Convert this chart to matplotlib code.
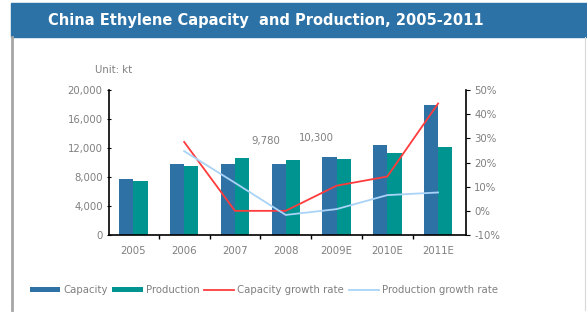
import numpy as np
import matplotlib.pyplot as plt
from matplotlib.patches import Rectangle
from matplotlib.lines import Line2D

# dữ liệu
years = ['2005', '2006', '2007', '2008', '2009E', '2010E', '2011E']
capacity = [7680, 9830, 9830, 9780, 10710, 12370, 17930]
production = [7490, 9480, 10580, 10390, 10440, 11270, 12180]
cap_growth = [np.nan, 28.5, 0.0, 0.0, 10.4, 14.2, 44.4]
prod_growth = [np.nan, 24.7, 11.6, -1.7, 0.7, 6.5, 7.6]
value_labels = {2: '9,780', 3: '10,300'}

W, H = 587, 313
fig = plt.figure(figsize=(W / 100, H / 100), dpi=100)

c_band = '#2C72A6'
c_cap = '#2D71A5'
c_prod = '#009490'
c_red = '#FF3B3B'
c_lblue = '#A9D3F7'
c_text = '#7F7F7F'
fs = 7.3

# khung + thanh tiêu đề
fig.patches.append(Rectangle((11 / W, (H - 37) / H), (W - 11) / W, 34 / H,
                             transform=fig.transFigure, color=c_band, zorder=0))
fig.lines.append(Line2D([12 / W, 12 / W], [3 / H, (H - 37) / H],
                        transform=fig.transFigure, color='#A6A6A6', lw=2))
fig.lines.append(Line2D([585 / W, 585 / W], [3 / H, (H - 37) / H],
                        transform=fig.transFigure, color='#D9D9D9', lw=0.8))
fig.text(266 / W, (H - 20) / H, 'China Ethylene Capacity  and Production, 2005-2011',
         color='white', fontsize=10.5, fontweight='bold', ha='center', va='center')

ax = fig.add_axes([109 / W, 78 / H, 357 / W, 145 / H])
x = np.arange(len(years))
bw = 0.28
ax.bar(x - bw / 2, capacity, bw, color=c_cap, label='Capacity', zorder=2)
ax.bar(x + bw / 2, production, bw, color=c_prod, label='Production', zorder=2)
ax.set_xlim(-0.48, 6.55)
ax.set_ylim(0, 20000)
ax.set_yticks(np.arange(0, 20001, 4000))
ax.set_yticklabels([f'{v:,}' for v in range(0, 20001, 4000)])
ax.set_xticks(x)
ax.set_xticklabels(years)
ax.set_xticks(x[:-1] + 0.5, minor=True)
ax.tick_params(axis='x', which='major', length=0, pad=8, labelsize=fs, labelcolor=c_text)
ax.tick_params(axis='x', which='minor', length=3, direction='out', width=1)
ax.tick_params(axis='y', length=3, direction='inout', labelsize=fs, labelcolor=c_text, pad=3)
for s in ['top', 'right']:
    ax.spines[s].set_visible(False)
for s in ['left', 'bottom']:
    ax.spines[s].set_linewidth(1.2)

for i, t in value_labels.items():
    ax.text(i + 0.6, max(capacity[i], production[i]) + 1700 + (i - 2) * 600, t,
            ha='center', va='bottom', fontsize=fs, color=c_text)

ax2 = ax.twinx()
ax2.plot(x, cap_growth, color=c_red, lw=1.3, label='Capacity growth rate')
ax2.plot(x, prod_growth, color=c_lblue, lw=1.3, label='Production growth rate')
ax2.set_ylim(-10, 50)
ax2.set_yticks(range(-10, 51, 10))
ax2.set_yticklabels([f'{v}%' for v in range(-10, 51, 10)])
ax2.tick_params(axis='y', length=3, direction='out', labelsize=fs, labelcolor=c_text, pad=3)
for s in ['top', 'left', 'bottom']:
    ax2.spines[s].set_visible(False)
ax2.spines['right'].set_linewidth(1.2)

fig.text(95 / W, (H - 70) / H, 'Unit: kt', fontsize=fs, color=c_text, ha='left', va='center')

h1, l1 = ax.get_legend_handles_labels()
h2, l2 = ax2.get_legend_handles_labels()
leg = fig.legend(h1 + h2, l1 + l2, loc='center', bbox_to_anchor=(264 / W, 23 / H),
                 ncol=4, frameon=False, fontsize=fs, handlelength=3.0,
                 handleheight=0.5, handletextpad=0.3, columnspacing=0.45)
for t in leg.get_texts():
    t.set_color(c_text)

fig.savefig('out.png', dpi=100)
